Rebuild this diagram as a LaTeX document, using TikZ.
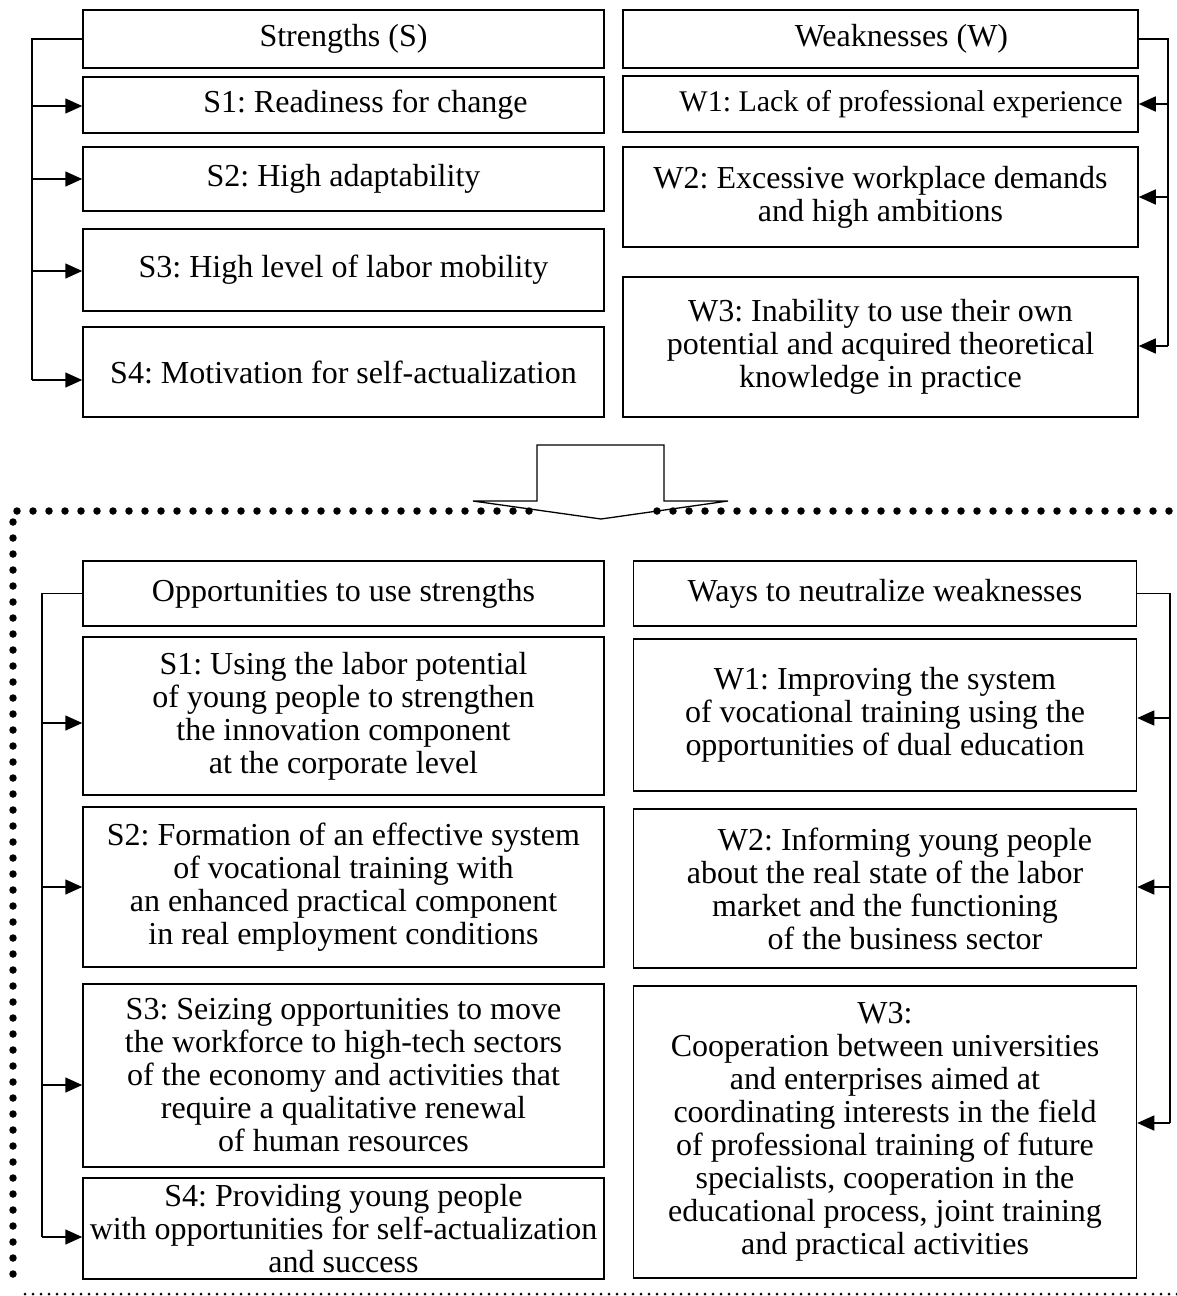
\documentclass[tikz,border=0pt]{standalone}
\usepackage{fontspec}
\setmainfont{Liberation Serif}
\usetikzlibrary{arrows.meta}
\frenchspacing

\begin{document}
\begin{tikzpicture}[
    x=1pt, y=-1pt,
    box/.style={draw, line width=1.5pt, align=center, inner sep=0pt,
                font=\fontsize{32}{33}\selectfont},
    lcol/.style={box, minimum width=521pt},
    rcol/.style={box, minimum width=515pt},
    ln/.style={line width=1.5pt},
    arr/.style={-{Triangle[length=17pt,width=15pt]}, line width=1.5pt},
    bigdots/.style={line width=7.5pt, line cap=round, dash pattern=on 0pt off 16pt},
    smalldots/.style={line width=3pt, line cap=round, dash pattern=on 0pt off 8pt}
  ]
    \useasboundingbox (0,0) rectangle (1177,1296);

    % upper part: strengths and weaknesses
    \node[lcol, minimum height=58pt] (sH) at (343.5,39)  {Strengths (S)};
    \node[lcol, minimum height=56pt] (s1) at (343.5,105) {\hspace*{44pt}S1: Readiness for change};
    \node[lcol, minimum height=64pt] (s2) at (343.5,179) {S2: High adaptability};
    \node[lcol, minimum height=82pt] (s3) at (343.5,270) {S3: High level of labor mobility};
    \node[lcol, minimum height=90pt] (s4) at (343.5,372) {S4: Motivation for self-actualization};

    \node[rcol, minimum height=58pt]  (wH) at (880.5,39)  {\hspace*{42pt}Weaknesses (W)};
    \node[rcol, minimum height=56pt, font=\fontsize{30}{31}\selectfont]
                                      (w1) at (880.5,104) {\hspace*{41pt}W1: Lack of professional experience};
    \node[rcol, minimum height=100pt] (w2) at (880.5,197) {W2: Excessive workplace demands\\
                                       and high ambitions};
    \node[rcol, minimum height=140pt] (w3) at (880.5,347) {W3: Inability to use their own\\
                                       potential and acquired theoretical\\
                                       knowledge in practice};

    % lower part: opportunities and ways
    \node[lcol, minimum height=65pt]  (oH) at (343.5,593.5) {Opportunities to use strengths};
    \node[lcol, minimum height=158pt] (o1) at (343.5,716)   {S1: Using the labor potential\\
                                       of young people to strengthen\\
                                       the innovation component\\
                                       at the corporate level};
    \node[lcol, minimum height=160pt] (o2) at (343.5,887)   {S2: Formation of an effective system\\
                                       of vocational training with\\
                                       an enhanced practical component\\
                                       in real employment conditions};
    \node[lcol, minimum height=183pt] (o3) at (343.5,1075.5){S3: Seizing opportunities to move\\
                                       the workforce to high-tech sectors\\
                                       of the economy and activities that\\
                                       require a qualitative renewal\\
                                       of human resources};
    \node[lcol, minimum height=101pt] (o4) at (343.5,1228.5){S4: Providing young people\\
                                       with opportunities for self-actualization\\
                                       and success};

    \node[box, minimum width=503pt, minimum height=65pt]  (nH) at (885,593.5) {Ways to neutralize weaknesses};
    \node[box, minimum width=503pt, minimum height=152pt] (n1) at (885,715)   {W1: Improving the system\\
                                       of vocational training using the\\
                                       opportunities of dual education};
    \node[box, minimum width=503pt, minimum height=159pt] (n2) at (885,888.5) {\hspace*{40pt}W2: Informing young people\\
                                       about the real state of the labor\\
                                       market and the functioning\\
                                       \hspace*{40pt}of the business sector};
    \node[box, minimum width=503pt, minimum height=292pt] (n3) at (885,1132)  {W3:\\
                                       Cooperation between universities\\
                                       and enterprises aimed at\\
                                       coordinating interests in the field\\
                                       of professional training of future\\
                                       specialists, cooperation in the\\
                                       educational process, joint training\\
                                       and practical activities};

    % brackets with arrows
    \foreach \n/\y in {s1/106,s2/179,s3/271,s4/380} {
      \coordinate (b\n) at (32,\y);
      \draw[arr] (b\n) -- (b\n -| \n.west);
    }
    \draw[ln] (sH.west) -| (bs4);

    \foreach \n/\y in {w1/104,w2/197,w3/346} {
      \coordinate (b\n) at (1168,\y);
      \draw[arr] (b\n) -- (b\n -| \n.east);
    }
    \draw[ln] (wH.east) -| (bw3);

    \foreach \n/\y in {o1/723,o2/887,o3/1085,o4/1237} {
      \coordinate (b\n) at (42,\y);
      \draw[arr] (b\n) -- (b\n -| \n.west);
    }
    \draw[ln] (oH.west) -| (bo4);

    \foreach \n/\y in {n1/718,n2/887,n3/1123} {
      \coordinate (b\n) at (1170,\y);
      \draw[arr] (b\n) -- (b\n -| \n.east);
    }
    \draw[ln] (nH.east) -| (bn3);

    % dotted frame and the big arrow
    \draw[bigdots] (17,511) -- (543,511);
    \draw[bigdots] (657,511) -- (1177,511);
    \draw[bigdots] (13,522) -- (13,1290);
    \draw[smalldots] (25,1294) -- (1177,1294);
    \draw[line width=1.3pt] (537,501) -- (537,445) -- (664,445) -- (664,501)
      -- (728,501) -- (601,519) -- (473,501) -- cycle;
\end{tikzpicture}
\end{document}
